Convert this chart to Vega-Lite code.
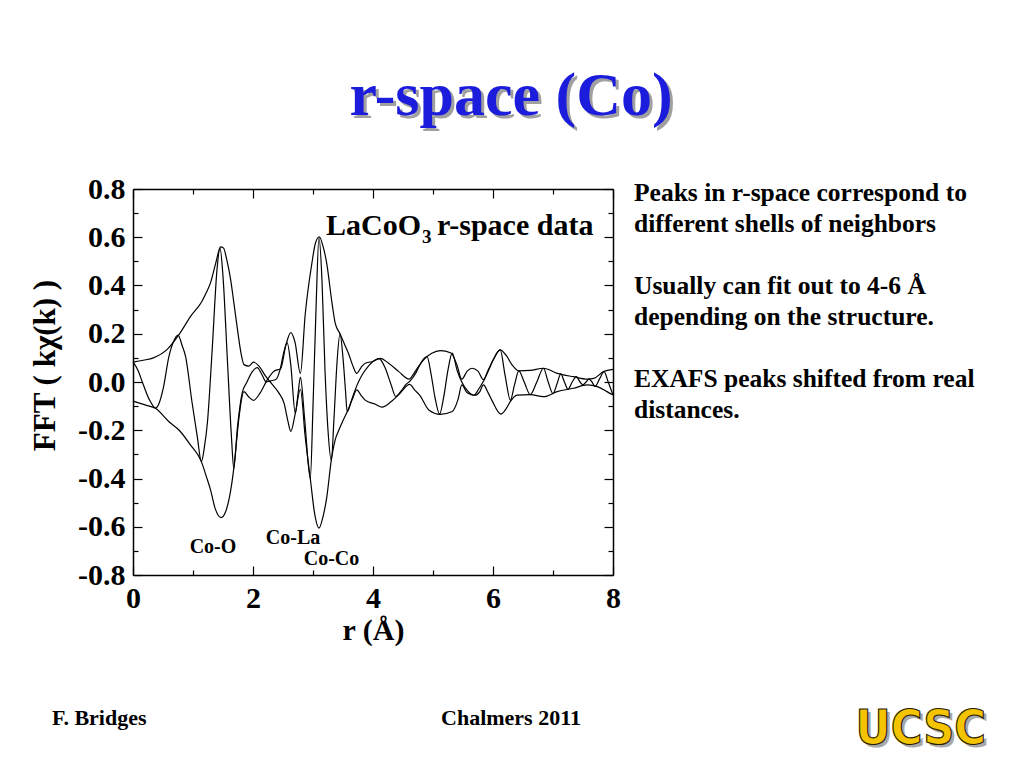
{
  "$schema": "https://vega.github.io/schema/vega-lite/v6.json",
  "width": 480,
  "height": 386,
  "autosize": {"type": "none"},
  "padding": {"left": 133, "top": 189, "right": 411, "bottom": 193},
  "background": "white",
  "layer": [
    {
      "data": {"values": [
        {"s": "a", "r": 0, "v": 0.082}, {"s": "a", "r": 0.17, "v": 0.09}, {"s": "a", "r": 0.34, "v": 0.1},
        {"s": "a", "r": 0.57, "v": 0.135}, {"s": "a", "r": 0.76, "v": 0.194}, {"s": "a", "r": 0.96, "v": 0.272},
        {"s": "a", "r": 1.15, "v": 0.335}, {"s": "a", "r": 1.22, "v": 0.37}, {"s": "a", "r": 1.29, "v": 0.41},
        {"s": "a", "r": 1.38, "v": 0.494}, {"s": "a", "r": 1.46, "v": 0.56}, {"s": "a", "r": 1.51, "v": 0.555},
        {"s": "a", "r": 1.56, "v": 0.51}, {"s": "a", "r": 1.63, "v": 0.42}, {"s": "a", "r": 1.68, "v": 0.33},
        {"s": "a", "r": 1.74, "v": 0.22}, {"s": "a", "r": 1.8, "v": 0.12}, {"s": "a", "r": 1.85, "v": 0.072},
        {"s": "a", "r": 1.93, "v": 0.066}, {"s": "a", "r": 2.01, "v": 0.082}, {"s": "a", "r": 2.1, "v": 0.066},
        {"s": "a", "r": 2.21, "v": 0.024}, {"s": "a", "r": 2.32, "v": -0.01}, {"s": "a", "r": 2.43, "v": -0.045},
        {"s": "a", "r": 2.52, "v": -0.09}, {"s": "a", "r": 2.58, "v": -0.16}, {"s": "a", "r": 2.63, "v": -0.205},
        {"s": "a", "r": 2.705, "v": -0.13}, {"s": "a", "r": 2.79, "v": -0.03}, {"s": "a", "r": 2.87, "v": -0.227},
        {"s": "a", "r": 2.955, "v": -0.4}, {"s": "a", "r": 3.03, "v": -0.55}, {"s": "a", "r": 3.1, "v": -0.606},
        {"s": "a", "r": 3.17, "v": -0.555}, {"s": "a", "r": 3.23, "v": -0.477}, {"s": "a", "r": 3.305, "v": -0.324},
        {"s": "a", "r": 3.37, "v": -0.24}, {"s": "a", "r": 3.43, "v": -0.2}, {"s": "a", "r": 3.5, "v": -0.16},
        {"s": "a", "r": 3.57, "v": -0.123}, {"s": "a", "r": 3.65, "v": -0.075}, {"s": "a", "r": 3.73, "v": -0.033},
        {"s": "a", "r": 3.8, "v": -0.055}, {"s": "a", "r": 3.87, "v": -0.075}, {"s": "a", "r": 4.04, "v": -0.092},
        {"s": "a", "r": 4.15, "v": -0.104}, {"s": "a", "r": 4.3, "v": -0.082}, {"s": "a", "r": 4.45, "v": -0.047},
        {"s": "a", "r": 4.61, "v": -0.01}, {"s": "a", "r": 4.7, "v": -0.035}, {"s": "a", "r": 4.78, "v": -0.055},
        {"s": "a", "r": 4.93, "v": -0.116}, {"s": "a", "r": 5.12, "v": -0.134}, {"s": "a", "r": 5.32, "v": -0.122},
        {"s": "a", "r": 5.42, "v": -0.07}, {"s": "a", "r": 5.48, "v": -0.012}, {"s": "a", "r": 5.57, "v": -0.045},
        {"s": "a", "r": 5.7, "v": -0.055}, {"s": "a", "r": 5.78, "v": -0.04}, {"s": "a", "r": 5.84, "v": -0.012},
        {"s": "a", "r": 5.92, "v": -0.045}, {"s": "a", "r": 5.98, "v": -0.075}, {"s": "a", "r": 6.13, "v": -0.133},
        {"s": "a", "r": 6.22, "v": -0.11}, {"s": "a", "r": 6.29, "v": -0.08}, {"s": "a", "r": 6.4, "v": -0.054},
        {"s": "a", "r": 6.62, "v": -0.052}, {"s": "a", "r": 6.84, "v": -0.061}, {"s": "a", "r": 7.07, "v": -0.04},
        {"s": "a", "r": 7.34, "v": -0.026}, {"s": "a", "r": 7.57, "v": -0.012}, {"s": "a", "r": 7.74, "v": -0.019},
        {"s": "a", "r": 7.9, "v": -0.04}, {"s": "a", "r": 8.0, "v": -0.054},

        {"s": "b", "r": 0, "v": -0.079}, {"s": "b", "r": 0.2, "v": -0.095}, {"s": "b", "r": 0.38, "v": -0.11},
        {"s": "b", "r": 0.6, "v": -0.165}, {"s": "b", "r": 0.77, "v": -0.2}, {"s": "b", "r": 0.96, "v": -0.262},
        {"s": "b", "r": 1.14, "v": -0.33}, {"s": "b", "r": 1.22, "v": -0.39}, {"s": "b", "r": 1.29, "v": -0.445},
        {"s": "b", "r": 1.37, "v": -0.525}, {"s": "b", "r": 1.47, "v": -0.562}, {"s": "b", "r": 1.54, "v": -0.54},
        {"s": "b", "r": 1.6, "v": -0.487}, {"s": "b", "r": 1.68, "v": -0.357}, {"s": "b", "r": 1.72, "v": -0.26},
        {"s": "b", "r": 1.77, "v": -0.14}, {"s": "b", "r": 1.85, "v": -0.04}, {"s": "b", "r": 1.93, "v": -0.062},
        {"s": "b", "r": 2.01, "v": -0.076}, {"s": "b", "r": 2.12, "v": -0.045}, {"s": "b", "r": 2.24, "v": 0.01},
        {"s": "b", "r": 2.35, "v": 0.045}, {"s": "b", "r": 2.46, "v": 0.055}, {"s": "b", "r": 2.55, "v": 0.155},
        {"s": "b", "r": 2.63, "v": 0.205}, {"s": "b", "r": 2.7, "v": 0.165}, {"s": "b", "r": 2.79, "v": 0.036},
        {"s": "b", "r": 2.87, "v": 0.28}, {"s": "b", "r": 2.98, "v": 0.49}, {"s": "b", "r": 3.04, "v": 0.575},
        {"s": "b", "r": 3.105, "v": 0.602}, {"s": "b", "r": 3.17, "v": 0.56}, {"s": "b", "r": 3.23, "v": 0.49},
        {"s": "b", "r": 3.317, "v": 0.327}, {"s": "b", "r": 3.37, "v": 0.244}, {"s": "b", "r": 3.45, "v": 0.2},
        {"s": "b", "r": 3.52, "v": 0.16}, {"s": "b", "r": 3.59, "v": 0.119}, {"s": "b", "r": 3.66, "v": 0.07},
        {"s": "b", "r": 3.73, "v": 0.036}, {"s": "b", "r": 3.8, "v": 0.06}, {"s": "b", "r": 3.87, "v": 0.078},
        {"s": "b", "r": 3.98, "v": 0.084}, {"s": "b", "r": 4.12, "v": 0.098}, {"s": "b", "r": 4.26, "v": 0.078},
        {"s": "b", "r": 4.43, "v": 0.043}, {"s": "b", "r": 4.6, "v": 0.012}, {"s": "b", "r": 4.68, "v": 0.035},
        {"s": "b", "r": 4.76, "v": 0.065}, {"s": "b", "r": 4.84, "v": 0.091}, {"s": "b", "r": 4.98, "v": 0.119},
        {"s": "b", "r": 5.12, "v": 0.13}, {"s": "b", "r": 5.3, "v": 0.12}, {"s": "b", "r": 5.4, "v": 0.07},
        {"s": "b", "r": 5.48, "v": 0.012}, {"s": "b", "r": 5.57, "v": 0.045}, {"s": "b", "r": 5.65, "v": 0.057},
        {"s": "b", "r": 5.75, "v": 0.045}, {"s": "b", "r": 5.84, "v": 0.01}, {"s": "b", "r": 5.92, "v": 0.05},
        {"s": "b", "r": 6.0, "v": 0.09}, {"s": "b", "r": 6.12, "v": 0.133}, {"s": "b", "r": 6.22, "v": 0.11},
        {"s": "b", "r": 6.32, "v": 0.07}, {"s": "b", "r": 6.43, "v": 0.046}, {"s": "b", "r": 6.62, "v": 0.048},
        {"s": "b", "r": 6.84, "v": 0.057}, {"s": "b", "r": 7.07, "v": 0.036}, {"s": "b", "r": 7.34, "v": 0.022},
        {"s": "b", "r": 7.57, "v": 0.012}, {"s": "b", "r": 7.68, "v": 0.015}, {"s": "b", "r": 7.84, "v": 0.043},
        {"s": "b", "r": 8.0, "v": 0.052},

        {"s": "re", "r": 0, "v": 0.082}, {"s": "re", "r": 0.08, "v": 0.05}, {"s": "re", "r": 0.16, "v": -0.003},
        {"s": "re", "r": 0.27, "v": -0.072}, {"s": "re", "r": 0.38, "v": -0.108}, {"s": "re", "r": 0.44, "v": -0.085},
        {"s": "re", "r": 0.5, "v": -0.031}, {"s": "re", "r": 0.6, "v": 0.107}, {"s": "re", "r": 0.68, "v": 0.17},
        {"s": "re", "r": 0.75, "v": 0.194}, {"s": "re", "r": 0.82, "v": 0.15}, {"s": "re", "r": 0.875, "v": 0.107},
        {"s": "re", "r": 0.985, "v": -0.086}, {"s": "re", "r": 1.07, "v": -0.224}, {"s": "re", "r": 1.14, "v": -0.33},
        {"s": "re", "r": 1.19, "v": -0.27}, {"s": "re", "r": 1.24, "v": -0.169}, {"s": "re", "r": 1.32, "v": 0.135},
        {"s": "re", "r": 1.4, "v": 0.466}, {"s": "re", "r": 1.45, "v": 0.556}, {"s": "re", "r": 1.5, "v": 0.438},
        {"s": "re", "r": 1.57, "v": 0.107}, {"s": "re", "r": 1.64, "v": -0.224}, {"s": "re", "r": 1.68, "v": -0.358},
        {"s": "re", "r": 1.74, "v": -0.19}, {"s": "re", "r": 1.82, "v": -0.045}, {"s": "re", "r": 1.9, "v": 0.0},
        {"s": "re", "r": 1.98, "v": 0.04}, {"s": "re", "r": 2.07, "v": 0.06}, {"s": "re", "r": 2.15, "v": 0.03},
        {"s": "re", "r": 2.22, "v": 0.0}, {"s": "re", "r": 2.3, "v": 0.005}, {"s": "re", "r": 2.38, "v": 0.01},
        {"s": "re", "r": 2.45, "v": 0.05}, {"s": "re", "r": 2.51, "v": 0.12}, {"s": "re", "r": 2.57, "v": 0.162},
        {"s": "re", "r": 2.63, "v": 0.07}, {"s": "re", "r": 2.705, "v": -0.13}, {"s": "re", "r": 2.75, "v": -0.05},
        {"s": "re", "r": 2.79, "v": 0.02}, {"s": "re", "r": 2.86, "v": -0.15}, {"s": "re", "r": 2.955, "v": -0.4},
        {"s": "re", "r": 3.0, "v": -0.1}, {"s": "re", "r": 3.05, "v": 0.3}, {"s": "re", "r": 3.1, "v": 0.6},
        {"s": "re", "r": 3.15, "v": 0.42}, {"s": "re", "r": 3.2, "v": 0.05}, {"s": "re", "r": 3.25, "v": -0.2},
        {"s": "re", "r": 3.305, "v": -0.324}, {"s": "re", "r": 3.35, "v": -0.15}, {"s": "re", "r": 3.4, "v": 0.08},
        {"s": "re", "r": 3.45, "v": 0.2}, {"s": "re", "r": 3.5, "v": 0.1}, {"s": "re", "r": 3.54, "v": -0.03},
        {"s": "re", "r": 3.57, "v": -0.123}, {"s": "re", "r": 3.65, "v": -0.07}, {"s": "re", "r": 3.73, "v": -0.015},
        {"s": "re", "r": 3.82, "v": 0.03}, {"s": "re", "r": 3.92, "v": 0.065}, {"s": "re", "r": 4.0, "v": 0.085},
        {"s": "re", "r": 4.1, "v": 0.097}, {"s": "re", "r": 4.2, "v": 0.06}, {"s": "re", "r": 4.3, "v": -0.01},
        {"s": "re", "r": 4.38, "v": -0.06}, {"s": "re", "r": 4.46, "v": -0.04}, {"s": "re", "r": 4.55, "v": -0.01},
        {"s": "re", "r": 4.62, "v": 0.005}, {"s": "re", "r": 4.72, "v": 0.04}, {"s": "re", "r": 4.8, "v": 0.08},
        {"s": "re", "r": 4.9, "v": 0.105}, {"s": "re", "r": 4.97, "v": 0.03}, {"s": "re", "r": 5.03, "v": -0.06},
        {"s": "re", "r": 5.11, "v": -0.133}, {"s": "re", "r": 5.18, "v": -0.06}, {"s": "re", "r": 5.25, "v": 0.05},
        {"s": "re", "r": 5.32, "v": 0.12}, {"s": "re", "r": 5.4, "v": 0.05}, {"s": "re", "r": 5.48, "v": 0.0},
        {"s": "re", "r": 5.57, "v": -0.035}, {"s": "re", "r": 5.68, "v": -0.055}, {"s": "re", "r": 5.76, "v": -0.03},
        {"s": "re", "r": 5.84, "v": 0.003}, {"s": "re", "r": 5.92, "v": 0.045}, {"s": "re", "r": 6.0, "v": 0.09},
        {"s": "re", "r": 6.12, "v": 0.133}, {"s": "re", "r": 6.2, "v": 0.03}, {"s": "re", "r": 6.29, "v": -0.075},
        {"s": "re", "r": 6.36, "v": -0.01}, {"s": "re", "r": 6.43, "v": 0.046}, {"s": "re", "r": 6.52, "v": 0.0},
        {"s": "re", "r": 6.62, "v": -0.052}, {"s": "re", "r": 6.73, "v": 0.0}, {"s": "re", "r": 6.84, "v": 0.057},
        {"s": "re", "r": 6.92, "v": 0.0}, {"s": "re", "r": 7.0, "v": -0.048}, {"s": "re", "r": 7.07, "v": -0.005},
        {"s": "re", "r": 7.13, "v": 0.034}, {"s": "re", "r": 7.19, "v": 0.0}, {"s": "re", "r": 7.25, "v": -0.03},
        {"s": "re", "r": 7.32, "v": 0.0}, {"s": "re", "r": 7.39, "v": 0.022}, {"s": "re", "r": 7.45, "v": 0.0},
        {"s": "re", "r": 7.5, "v": -0.012}, {"s": "re", "r": 7.55, "v": 0.0}, {"s": "re", "r": 7.6, "v": 0.012},
        {"s": "re", "r": 7.65, "v": 0.0}, {"s": "re", "r": 7.7, "v": -0.018}, {"s": "re", "r": 7.78, "v": 0.015},
        {"s": "re", "r": 7.85, "v": 0.043}, {"s": "re", "r": 7.92, "v": 0.0}, {"s": "re", "r": 8.0, "v": -0.054}
      ]},
      "mark": {"type": "line", "color": "black", "strokeWidth": 1.2, "interpolate": "monotone"},
      "encoding": {
        "x": {
          "field": "r", "type": "quantitative",
          "scale": {"domain": [0, 8], "nice": false, "zero": false},
          "axis": {
            "orient": "bottom",
            "values": [0, 1, 2, 3, 4, 5, 6, 7, 8],
            "labelExpr": "datum.value % 2 == 0 ? datum.label : ''",
            "tickSize": {"condition": {"test": "datum.value % 2 == 0", "value": -9}, "value": -5},
            "labelPadding": 17, "labelFlush": false,
            "labelFontSize": 30, "labelFontWeight": "bold",
            "title": "r (Å)", "titleFontSize": 30, "titleFontWeight": "bold", "titlePadding": 2
          }
        },
        "y": {
          "field": "v", "type": "quantitative",
          "scale": {"domain": [-0.8, 0.8], "nice": false, "zero": false},
          "axis": {
            "orient": "left",
            "values": [-0.8, -0.7, -0.6, -0.5, -0.4, -0.3, -0.2, -0.1, 0, 0.1, 0.2, 0.3, 0.4, 0.5, 0.6, 0.7, 0.8],
            "labelExpr": "abs(round(datum.value * 10)) % 2 == 0 ? (datum.value < -0.01 ? '-' : '') + format(abs(datum.value), '.1f') : ''",
            "tickSize": {"condition": {"test": "abs(round(datum.value * 10)) % 2 == 0", "value": -9}, "value": -5},
            "labelPadding": 17, "labelFlush": false,
            "labelFontSize": 30, "labelFontWeight": "bold",
            "title": "FFT ( kχ(k) )", "titleFontSize": 31, "titleFontWeight": "bold",
            "titlePadding": 16, "titleY": 176
          }
        },
        "detail": {"field": "s"}
      }
    },
    {
      "data": {"values": [{}]},
      "mark": {"type": "point", "opacity": 0},
      "encoding": {
        "x": {
          "datum": 0, "type": "quantitative",
          "axis": {
            "orient": "top", "labels": false, "title": null,
            "values": [0, 1, 2, 3, 4, 5, 6, 7, 8],
            "tickSize": {"condition": {"test": "datum.value % 2 == 0", "value": -9}, "value": -5}
          }
        },
        "y": {
          "datum": 0, "type": "quantitative",
          "axis": {
            "orient": "right", "labels": false, "title": null,
            "values": [-0.8, -0.7, -0.6, -0.5, -0.4, -0.3, -0.2, -0.1, 0, 0.1, 0.2, 0.3, 0.4, 0.5, 0.6, 0.7, 0.8],
            "tickSize": {"condition": {"test": "abs(round(datum.value * 10)) % 2 == 0", "value": -9}, "value": -5}
          }
        }
      }
    },
    {
      "data": {"values": [{"t": "r-space (Co)"}]},
      "layer": [
        {"mark": {"type": "text", "align": "center", "baseline": "alphabetic", "font": "Liberation Serif", "fontSize": 62, "fontWeight": "bold", "color": "#a0a0a0", "dx": 3, "dy": 3}},
        {"mark": {"type": "text", "align": "center", "baseline": "alphabetic", "font": "Liberation Serif", "fontSize": 62, "fontWeight": "bold", "color": "#1c1cdc"}}
      ],
      "encoding": {
        "x": {"datum": 6.3, "type": "quantitative", "axis": null},
        "y": {"datum": 1.107, "type": "quantitative", "axis": null},
        "text": {"field": "t"}
      }
    },
    {
      "data": {"values": [{"t": ["Peaks in r-space correspond to", "different shells of neighbors"]}]},
      "mark": {"type": "text", "align": "left", "baseline": "alphabetic", "font": "Liberation Serif", "fontSize": 25.5, "fontWeight": "bold", "lineHeight": 31, "color": "black"},
      "encoding": {
        "x": {"datum": 8.35, "type": "quantitative", "axis": null},
        "y": {"datum": 0.75, "type": "quantitative", "axis": null},
        "text": {"field": "t"}
      }
    },
    {
      "data": {"values": [{"t": ["Usually can fit out to 4-6 Å", "depending on the structure."]}]},
      "mark": {"type": "text", "align": "left", "baseline": "alphabetic", "font": "Liberation Serif", "fontSize": 25.5, "fontWeight": "bold", "lineHeight": 31, "color": "black"},
      "encoding": {
        "x": {"datum": 8.35, "type": "quantitative", "axis": null},
        "y": {"datum": 0.365, "type": "quantitative", "axis": null},
        "text": {"field": "t"}
      }
    },
    {
      "data": {"values": [{"t": ["EXAFS peaks shifted from real", "distances."]}]},
      "mark": {"type": "text", "align": "left", "baseline": "alphabetic", "font": "Liberation Serif", "fontSize": 25.5, "fontWeight": "bold", "lineHeight": 31, "color": "black"},
      "encoding": {
        "x": {"datum": 8.35, "type": "quantitative", "axis": null},
        "y": {"datum": -0.021, "type": "quantitative", "axis": null},
        "text": {"field": "t"}
      }
    },
    {
      "data": {"values": [{"t": "LaCoO"}]},
      "mark": {"type": "text", "align": "left", "baseline": "alphabetic", "font": "Liberation Serif", "fontSize": 30, "fontWeight": "bold", "color": "black"},
      "encoding": {
        "x": {"datum": 3.217, "type": "quantitative", "axis": null},
        "y": {"datum": 0.609, "type": "quantitative", "axis": null},
        "text": {"field": "t"}
      }
    },
    {
      "data": {"values": [{"t": "3"}]},
      "mark": {"type": "text", "align": "left", "baseline": "alphabetic", "font": "Liberation Serif", "fontSize": 19, "fontWeight": "bold", "color": "black"},
      "encoding": {
        "x": {"datum": 4.817, "type": "quantitative", "axis": null},
        "y": {"datum": 0.576, "type": "quantitative", "axis": null},
        "text": {"field": "t"}
      }
    },
    {
      "data": {"values": [{"t": "r-space data"}]},
      "mark": {"type": "text", "align": "left", "baseline": "alphabetic", "font": "Liberation Serif", "fontSize": 30, "fontWeight": "bold", "color": "black"},
      "encoding": {
        "x": {"datum": 5.067, "type": "quantitative", "axis": null},
        "y": {"datum": 0.609, "type": "quantitative", "axis": null},
        "text": {"field": "t"}
      }
    },
    {
      "data": {"values": [{"t": "Co-O", "x": 1.333, "y": -0.709}, {"t": "Co-La", "x": 2.667, "y": -0.672}, {"t": "Co-Co", "x": 3.308, "y": -0.759}]},
      "mark": {"type": "text", "align": "center", "baseline": "alphabetic", "font": "Liberation Serif", "fontSize": 20, "fontWeight": "bold", "color": "black"},
      "encoding": {
        "x": {"field": "x", "type": "quantitative", "axis": null},
        "y": {"field": "y", "type": "quantitative", "axis": null},
        "text": {"field": "t"}
      }
    },
    {
      "data": {"values": [{"t": "F. Bridges"}]},
      "mark": {"type": "text", "align": "left", "baseline": "alphabetic", "font": "Liberation Serif", "fontSize": 22, "fontWeight": "bold", "color": "black"},
      "encoding": {
        "x": {"datum": -1.35, "type": "quantitative", "axis": null},
        "y": {"datum": -1.422, "type": "quantitative", "axis": null},
        "text": {"field": "t"}
      }
    },
    {
      "data": {"values": [{"t": "Chalmers 2011"}]},
      "mark": {"type": "text", "align": "center", "baseline": "alphabetic", "font": "Liberation Serif", "fontSize": 22, "fontWeight": "bold", "color": "black"},
      "encoding": {
        "x": {"datum": 6.3, "type": "quantitative", "axis": null},
        "y": {"datum": -1.422, "type": "quantitative", "axis": null},
        "text": {"field": "t"}
      }
    },
    {
      "data": {"values": [{"t": "UCSC"}]},
      "layer": [
        {"mark": {"type": "text", "align": "center", "baseline": "alphabetic", "font": "Liberation Sans Narrow, DejaVu Sans Condensed, sans-serif", "fontSize": 48, "fontWeight": "bold", "color": "#a8a8a8", "dx": 3, "dy": 3}},
        {"mark": {"type": "text", "align": "center", "baseline": "alphabetic", "font": "Liberation Sans Narrow, DejaVu Sans Condensed, sans-serif", "fontSize": 48, "fontWeight": "bold", "fill": "#f5c400", "stroke": "#2a2000", "strokeWidth": 1.1}}
      ],
      "encoding": {
        "x": {"datum": 13.13, "type": "quantitative", "axis": null},
        "y": {"datum": -1.5, "type": "quantitative", "axis": null},
        "text": {"field": "t"}
      }
    }
  ],
  "resolve": {"axis": {"x": "independent", "y": "independent"}},
  "config": {
    "font": "Liberation Serif",
    "view": {"stroke": null},
    "axis": {
      "grid": false,
      "domainColor": "black",
      "domainWidth": 1.5,
      "tickColor": "black",
      "tickWidth": 1.2,
      "labelColor": "black",
      "titleColor": "black",
      "labelFont": "Liberation Serif",
      "titleFont": "Liberation Serif"
    }
  }
}
